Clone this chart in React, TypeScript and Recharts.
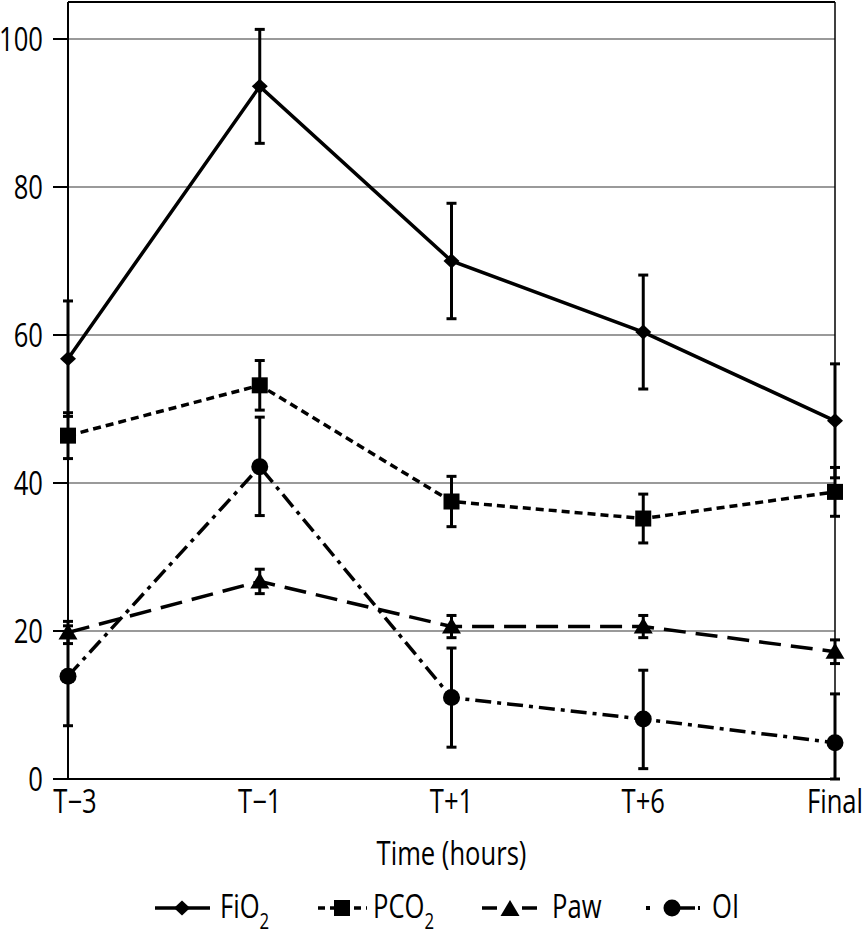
import React from 'react';
import {
  LineChart,
  Line,
  XAxis,
  YAxis,
  CartesianGrid,
  ErrorBar,
  ReferenceLine,
  Legend,
} from 'recharts';

const FONT = "'Open Sans', 'Noto Sans', sans-serif";
const SX = 0.8;

const categories = ['T\u22123', 'T\u22121', 'T+1', 'T+6', 'Final'];
const fio2 = [56.8, 93.6, 70.0, 60.4, 48.4];
const fio2Err = [7.8, 7.7, 7.8, 7.7, 7.7];
const pco2 = [46.4, 53.2, 37.5, 35.2, 38.8];
const pco2Err = [3.1, 3.35, 3.4, 3.3, 3.3];
const paw = [19.8, 26.7, 20.6, 20.6, 17.2];
const pawErr = [1.5, 1.65, 1.5, 1.5, 1.6];
const oi = [13.9, 42.2, 11.0, 8.1, 4.9];
const oiErr: [number, number][] = [
  [6.7, 6.8],
  [6.6, 6.7],
  [6.7, 6.7],
  [6.7, 6.6],
  [4.9, 6.6],
];
const yTicks = [0, 20, 40, 60, 80, 100];

const data = categories.map((c, i) => ({
  time: c,
  fio2: fio2[i],
  fio2Err: fio2Err[i],
  pco2: pco2[i],
  pco2Err: pco2Err[i],
  paw: paw[i],
  pawErr: pawErr[i],
  oi: oi[i],
  oiErr: oiErr[i],
}));

type Shape = 'diamond' | 'square' | 'triangle' | 'circle';

function marker(shape: Shape, cx: number, cy: number, key?: string) {
  switch (shape) {
    case 'diamond':
      return (
        <path
          key={key}
          d={`M${cx},${cy - 7.5} L${cx + 8},${cy} L${cx},${cy + 7.5} L${cx - 8},${cy} Z`}
          fill="#000"
        />
      );
    case 'square':
      return <rect key={key} x={cx - 8} y={cy - 8} width={16} height={16} fill="#000" />;
    case 'triangle':
      return (
        <path
          key={key}
          d={`M${cx},${cy - 9} L${cx + 9.5},${cy + 7} L${cx - 9.5},${cy + 7} Z`}
          fill="#000"
        />
      );
    default:
      return <circle key={key} cx={cx} cy={cy} r={8.5} fill="#000" />;
  }
}

const makeDot = (shape: Shape) => (props: any) => {
  const { cx, cy, index } = props;
  if (cx == null || cy == null) return <g key={`${shape}-${index}`} />;
  return marker(shape, cx, cy, `${shape}-${index}`);
};

function NarrowText({
  x,
  y,
  anchor,
  dy,
  size,
  children,
}: {
  x: number;
  y: number;
  anchor: 'start' | 'middle' | 'end';
  dy: string;
  size: number;
  children: React.ReactNode;
}) {
  return (
    <text
      transform={`translate(${x} ${y}) scale(${SX} 1)`}
      x={0}
      y={0}
      dy={dy}
      textAnchor={anchor}
      fontSize={size}
      fontFamily={FONT}
      fill="#000"
    >
      {children}
    </text>
  );
}

const XTick = (props: any) => {
  const { x, y, payload, index } = props;
  const dx = index === 0 ? 7 : 0;
  return (
    <NarrowText x={x + dx} y={y} anchor="middle" dy="0.72em" size={32}>
      {payload.value}
    </NarrowText>
  );
};

const YTick = (props: any) => {
  const { x, y, payload } = props;
  return (
    <NarrowText x={x} y={y} anchor="end" dy="0.36em" size={32}>
      {payload.value}
    </NarrowText>
  );
};

const XLabel = (props: any) => {
  const vb = props.viewBox || {};
  const cx = vb.x + vb.width / 2;
  const baseline = vb.y + vb.height - 20;
  return (
    <NarrowText x={cx} y={baseline} anchor="middle" dy="0" size={32}>
      Time (hours)
    </NarrowText>
  );
};

const legendItems = [
  { key: 'fio2', base: 'FiO', sub: '2', left: 155, textLeft: 65 },
  { key: 'pco2', base: 'PCO', sub: '2', left: 318, textLeft: 55 },
  { key: 'paw', base: 'Paw', sub: '', left: 482, textLeft: 70 },
  { key: 'oi', base: 'OI', sub: '', left: 640, textLeft: 72 },
];

function LegendSymbol({ k }: { k: string }) {
  const cy = 13;
  let body: React.ReactNode = null;
  if (k === 'fio2') {
    body = (
      <>
        <line x1={0} y1={cy} x2={55} y2={cy} stroke="#000" strokeWidth={3.5} />
        {marker('diamond', 27, cy)}
      </>
    );
  } else if (k === 'pco2') {
    body = (
      <>
        <line x1={0} y1={cy} x2={49} y2={cy} stroke="#000" strokeWidth={3.5} strokeDasharray="7 5" />
        {marker('square', 24, cy)}
      </>
    );
  } else if (k === 'paw') {
    body = (
      <>
        <line x1={0} y1={cy} x2={55} y2={cy} stroke="#000" strokeWidth={3.5} strokeDasharray="15 25" />
        {marker('triangle', 28, cy + 1)}
      </>
    );
  } else {
    body = (
      <>
        <rect x={6} y={cy - 2} width={4} height={4} fill="#000" />
        <line x1={32} y1={cy} x2={55} y2={cy} stroke="#000" strokeWidth={3.5} />
        <rect x={58} y={cy - 2} width={2} height={4} fill="#000" />
        {marker('circle', 32, cy)}
      </>
    );
  }
  return (
    <svg width={62} height={26} style={{ position: 'absolute', left: 0, top: 10 }}>
      {body}
    </svg>
  );
}

const renderLegend = () => (
  <div style={{ position: 'relative', width: 862, height: 50, fontFamily: FONT }}>
    {legendItems.map((it) => (
      <div key={it.key} style={{ position: 'absolute', left: it.left, top: 0, height: 50 }}>
        <LegendSymbol k={it.key} />
        <span
          style={{
            position: 'absolute',
            left: it.textLeft,
            top: 3,
            fontSize: 32,
            lineHeight: '36px',
            whiteSpace: 'nowrap',
            color: '#000',
            display: 'inline-block',
            transform: `scaleX(${SX})`,
            transformOrigin: 'left center',
          }}
        >
          {it.base}
          {it.sub ? (
            <span style={{ fontSize: 21, position: 'relative', top: 11 }}>{it.sub}</span>
          ) : null}
        </span>
      </div>
    ))}
  </div>
);

export default function App() {
  return (
    <div style={{ position: 'absolute', left: 0, top: 0, width: 862, height: 935, background: '#fff' }}>
      <LineChart
        width={862}
        height={935}
        data={data}
        margin={{ top: 2, right: 27, bottom: 0, left: 8 }}
      >
        <CartesianGrid vertical={false} stroke="#9a9a9a" strokeWidth={2} />
        <XAxis
          dataKey="time"
          height={106}
          axisLine={{ stroke: '#000', strokeWidth: 2 }}
          tickLine={false}
          tickSize={0}
          tickMargin={11}
          tick={<XTick />}
          interval={0}
          label={<XLabel />}
        />
        <YAxis
          width={60}
          domain={[0, 105]}
          ticks={yTicks}
          interval={0}
          axisLine={{ stroke: '#000', strokeWidth: 2 }}
          tickLine={{ stroke: '#000', strokeWidth: 2 }}
          tickSize={15}
          tickMargin={10}
          tick={<YTick />}
        />
        <ReferenceLine y={105} stroke="#000" strokeWidth={2} />
        <ReferenceLine x="Final" stroke="#000" strokeWidth={1.5} />
        <Legend verticalAlign="bottom" height={50} content={renderLegend} wrapperStyle={{ left: 0, width: 862 }} />
        <Line
          dataKey="fio2"
          stroke="#000"
          strokeWidth={3.5}
          dot={makeDot('diamond')}
          activeDot={false}
          isAnimationActive={false}
        >
          <ErrorBar dataKey="fio2Err" width={5} stroke="#000" strokeWidth={3} direction="y" />
        </Line>
        <Line
          dataKey="pco2"
          stroke="#000"
          strokeWidth={3.5}
          strokeDasharray="8 5"
          dot={makeDot('square')}
          activeDot={false}
          isAnimationActive={false}
        >
          <ErrorBar dataKey="pco2Err" width={5} stroke="#000" strokeWidth={3} direction="y" />
        </Line>
        <Line
          dataKey="paw"
          stroke="#000"
          strokeWidth={3.5}
          strokeDasharray="22 10"
          dot={makeDot('triangle')}
          activeDot={false}
          isAnimationActive={false}
        >
          <ErrorBar dataKey="pawErr" width={5} stroke="#000" strokeWidth={3} direction="y" />
        </Line>
        <Line
          dataKey="oi"
          stroke="#000"
          strokeWidth={3.5}
          strokeDasharray="16 6 4 6"
          dot={makeDot('circle')}
          activeDot={false}
          isAnimationActive={false}
        >
          <ErrorBar dataKey="oiErr" width={5} stroke="#000" strokeWidth={3} direction="y" />
        </Line>
      </LineChart>
    </div>
  );
}
